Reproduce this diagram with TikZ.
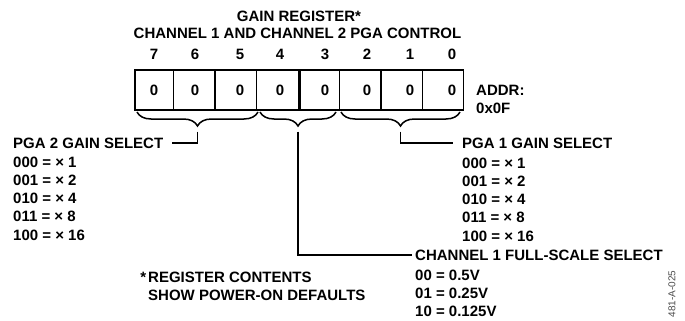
\documentclass[tikz,border=0pt]{standalone}
\usepackage{fontspec}
\setmainfont{Liberation Sans}
\usetikzlibrary{decorations.pathreplacing}
\usetikzlibrary{calc}

\tikzset{
  txt/.style={font=\bfseries\fontsize{15}{18.2}\selectfont, inner sep=0pt},
  regline/.style={line width=1.3pt},
  conn/.style={line width=1.5pt},
  regbrace/.style={line width=1.5pt, decorate, decoration={brace, mirror, amplitude=14pt}}
}

\begin{document}
\begin{tikzpicture}[x=1pt, y=-1pt]

\useasboundingbox (0,0) rectangle (685,321);

%titles
\node[txt] (title) at (299,16.5) {GAIN REGISTER*};
\node[txt] (subtitle) at (297.5,33) {CHANNEL 1 AND CHANNEL 2 PGA CONTROL};

%register box
\draw[line width=1.9pt] (135,70) rectangle (463.5,110);
\foreach \x in {173.5,215,256.5,339.5,381,422.5}
  \draw[regline] (\x,70) -- (\x,110);
\draw[line width=3pt] (299.5,70) -- (299.5,110);

%bit numbers and contents
\foreach \x/\b in {154/7,195/6,240/5,280/4,325/3,367/2,410/1,452/0} {
  \node[txt] (bit\b) at (\x,54) {\b};
  \node[txt] (val\b) at (\x,90) {0};
}

\node[txt, anchor=north west, align=left] (addr) at (476,84.6) {ADDR:\\0x0F};

%braces under the fields
\draw[regbrace] (137,112) -- (258,112) coordinate[midway] (mid2);
\draw[regbrace] (260,112) -- (336,112) coordinate[midway] (midfs);
\draw[regbrace] (341,112) -- (460,112) coordinate[midway] (mid1);

\coordinate (tip2) at ($(mid2)+(0,19.5)$);
\coordinate (tipfs) at ($(midfs)+(0,19.5)$);
\coordinate (tip1) at ($(mid1)+(0,19.5)$);

%PGA 2 field
\node[txt, anchor=west] (pga2) at (13,143) {PGA 2 GAIN SELECT};
\node[txt, anchor=north west, align=left] (pga2list) at (13,156.6)
  {000 = × 1\\001 = × 2\\010 = × 4\\011 = × 8\\100 = × 16};

%PGA 1 field
\node[txt, anchor=west] (pga1) at (462,143) {PGA 1 GAIN SELECT};
\node[txt, anchor=north west, align=left] (pga1list) at (462,157.6)
  {000 = × 1\\001 = × 2\\010 = × 4\\011 = × 8\\100 = × 16};

%full-scale field
\node[txt, anchor=west] (fs) at (415,255) {CHANNEL 1 FULL-SCALE SELECT};
\node[txt, anchor=north west, align=left] (fslist) at (415,269.6)
  {00 = 0.5V\\01 = 0.25V\\10 = 0.125V};

%connectors
\draw[conn, shorten >=9pt] (tip2) |- (pga2.east);
\draw[conn, shorten >=9pt] (tip1) |- (pga1.west);
\draw[conn, shorten >=3pt] (tipfs) |- (fs.west);

%footnote
\node[txt, anchor=north west, align=left] (note) at (148,271.6)
  {\llap{*\hspace{2pt}}REGISTER CONTENTS\\SHOW POWER-ON DEFAULTS};

\node[rotate=90, inner sep=0pt, text=black!70, font=\fontsize{10}{10}\selectfont] (code) at (672,294) {481-A-025};

\end{tikzpicture}
\end{document}
